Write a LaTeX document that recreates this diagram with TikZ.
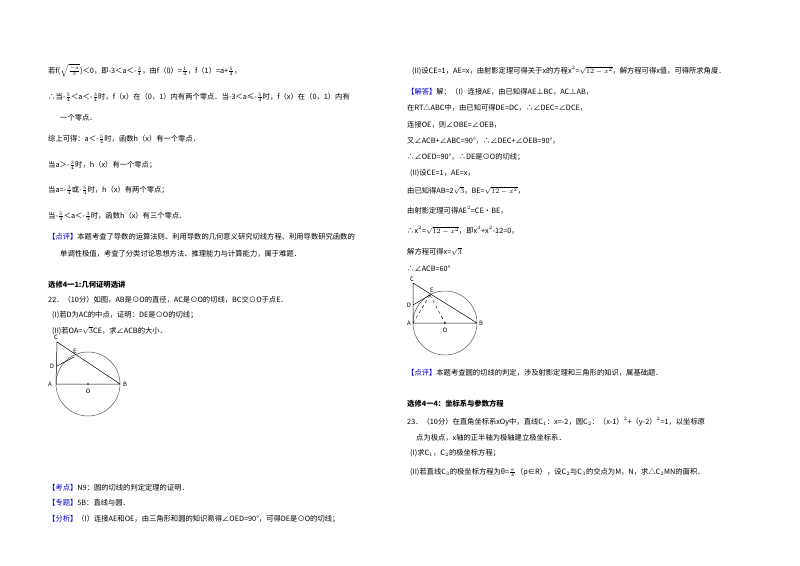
\documentclass[tikz,border=0pt]{standalone}
\usepackage{amsmath}
\usepackage{fontspec}
\setmainfont{Noto Sans CJK SC}
\begin{document}
\begin{tikzpicture}[x=1pt,y=-1pt,
  t/.style={anchor=base west,inner sep=0pt,font=\fontsize{7.3}{8}\selectfont},
  h/.style={t,font=\fontsize{7.3}{8}\selectfont\bfseries},
  lab/.style={inner sep=0pt,font=\fontsize{6}{7}\itshape\selectfont}]
\useasboundingbox (0,0) rectangle (800,565);
\fill[white] (0,0) rectangle (800,565);
\def\f#1#2{$\frac{#1}{#2}$}
% left column
\node[t] (l1) at (48,73) {若f($\sqrt{\frac{-a}{3}}$)＜0，即-3＜a＜-\f34，由f（0）=\f14，f（1）=a+\f54，};
\node[t] (l2) at (48,99) {∴当-\f54＜a＜-\f34时，f（x）在（0，1）内有两个零点．当-3＜a≤-\f54时，f（x）在（0，1）内有};
\node[t] (l3) at (60,120) {一个零点．};
\node[t] (l4) at (48,141) {综上可得：a＜-\f54时，函数h（x）有一个零点．};
\node[t] (l5) at (48,167) {当a＞-\f34时，h（x）有一个零点；};
\node[t] (l6) at (48,192) {当a=-\f34或-\f54时，h（x）有两个零点；};
\node[t] (l7) at (48,218) {当-\f54＜a＜-\f34时，函数h（x）有三个零点．};
\node[t] (l8) at (48,239) {\textcolor{blue!80!black}{【点评】}本题考查了导数的运算法则、利用导数的几何意义研究切线方程、利用导数研究函数的};
\node[t] (l9) at (60,256) {单调性极值，考查了分类讨论思想方法、推理能力与计算能力，属于难题．};
\node[h] (s1) at (48,287) {选修4一1:几何证明选讲};
\node[t] (q1) at (48,302) {22．（10分）如图，AB是⊙O的直径，AC是⊙O的切线，BC交⊙O于点E．};
\node[t] (q2) at (52,317) {(I)若D为AC的中点，证明：DE是⊙O的切线；};
\node[t] (q3) at (52,333) {(II)若OA=$\sqrt3$CE，求∠ACB的大小．};
% left figure
\coordinate (A1) at (56,384); \coordinate (B1) at (120,384); \coordinate (O1) at (88,384);
\coordinate (C1) at (57,342); \coordinate (E1) at (74,357); \coordinate (D1) at (57,366);
\draw[gray!70!black,line width=0.5pt] (O1) circle (32);
\draw[line width=0.5pt] (A1)--(B1) (C1)--(A1) (C1)--(B1) (D1)--(E1);
\fill (O1) circle (0.8);
\node[lab] (la) at (50,384) {A}; \node[lab] (lb) at (125,384) {B}; \node[lab] (lo) at (88,391) {O};
\node[lab] (lc) at (56,337) {C}; \node[lab] (le) at (75,351) {E}; \node[lab] (ld) at (52,366) {D};
\node[t] (k1) at (48,490) {\textcolor{blue!80!black}{【考点】}N9：圆的切线的判定定理的证明．};
\node[t] (k2) at (48,505) {\textcolor{blue!80!black}{【专题】}5B：直线与圆．};
\node[t] (k3) at (48,521) {\textcolor{blue!80!black}{【分析】}（I）连接AE和OE，由三角形和圆的知识易得∠OED=90°，可得DE是⊙O的切线；};
% right column
\node[t] (r1) at (412,73) {(II)设CE=1，AE=x，由射影定理可得关于x的方程x$^2$=$\sqrt{12-x^2}$，解方程可得x值，可得所求角度．};
\node[t] (r2) at (407,94) {\textcolor{blue!80!black}{【解答】}解：（I）连接AE，由已知得AE⊥BC，AC⊥AB，};
\node[t] (r3) at (407,110) {在RT△ABC中，由已知可得DE=DC，∴∠DEC=∠DCE，};
\node[t] (r4) at (407,127) {连接OE，则∠OBE=∠OEB，};
\node[t] (r5) at (407,143) {又∠ACB+∠ABC=90°，∴∠DEC+∠OEB=90°，};
\node[t] (r6) at (407,159) {∴∠OED=90°，∴DE是⊙O的切线；};
\node[t] (r7) at (410,175) {(II)设CE=1，AE=x，};
\node[t] (r8) at (407,193) {由已知得AB=2$\sqrt3$，BE=$\sqrt{12-x^2}$，};
\node[t] (r9) at (407,213) {由射影定理可得AE$^2$=CE•BE，};
\node[t] (r10) at (407,233) {∴x$^2$=$\sqrt{12-x^2}$，即x$^4$+x$^2$-12=0，};
\node[t] (r11) at (407,254) {解方程可得x=$\sqrt3$};
\node[t] (r12) at (407,271) {∴∠ACB=60°};
% right figure
\coordinate (A2) at (413,323); \coordinate (B2) at (477,323); \coordinate (O2) at (445,323);
\coordinate (C2) at (413,283); \coordinate (E2) at (430,295); \coordinate (D2) at (413,305);
\draw[gray!70!black,line width=0.5pt] (O2) circle (32);
\draw[line width=0.5pt] (A2)--(B2) (C2)--(A2) (C2)--(B2) (D2)--(E2);
\draw[dashed,line width=0.4pt] (E2)--(A2) (E2)--(O2);
\fill (O2) circle (0.8);
\node[lab] (ra) at (409,323) {A}; \node[lab] (rb) at (481,323) {B}; \node[lab] (ro) at (445,330) {O};
\node[lab] (rc) at (412,279) {C}; \node[lab] (re) at (432,290) {E}; \node[lab] (rd) at (409,305) {D};
\node[t] (p1) at (407,375) {\textcolor{blue!80!black}{【点评】}本题考查圆的切线的判定，涉及射影定理和三角形的知识，属基础题．};
\node[h] (s2) at (407,406) {选修4一4：坐标系与参数方程};
\node[t] (p2) at (407,424) {23．（10分）在直角坐标系xOy中，直线C$_1$：x=-2，圆C$_2$：（x-1）$^2$+（y-2）$^2$=1，以坐标原};
\node[t] (p3) at (416,440) {点为极点，x轴的正半轴为极轴建立极坐标系．};
\node[t] (p4) at (410,455) {(I)求C$_1$，C$_2$的极坐标方程；};
\node[t] (p5) at (410,474) {(II)若直线C$_3$的极坐标方程为θ=$\frac{\pi}{4}$（ρ∈R），设C$_2$与C$_3$的交点为M，N，求△C$_2$MN的面积．};
\end{tikzpicture}
\end{document}
